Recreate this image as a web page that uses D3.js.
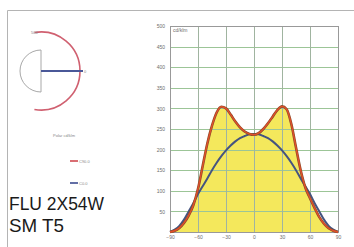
<!DOCTYPE html>
<html>
<head>
<meta charset="utf-8">
<script src="https://cdn.jsdelivr.net/npm/d3@7"></script>
<style>
  body { margin: 0; background: #fff; }
  svg { display: block; }
</style>
</head>
<body>
<script>
// angles in degrees and the two intensity curves (cd/klm)
const angles = [-90, -85, -80, -75, -70, -65, -60, -55, -50, -45, -40, -35, -30, -25, -20, -15, -10, -5,
    0, 5, 10, 15, 20, 25, 30, 35, 40, 45, 50, 55, 60, 65, 70, 75, 80, 85, 90];
const redValues = [0, 3, 10, 22, 40, 65, 105, 160, 215, 258, 290, 304, 300, 285, 268, 254, 244, 238,
    236, 240, 250, 264, 280, 296, 305, 298, 262, 205, 150, 108, 82, 58, 36, 20, 9, 3, 0];
const blueValues = [0, 6, 15, 30, 50, 70, 92, 111, 130, 150, 168, 184, 198, 210, 220, 228, 233, 237,
    238, 237, 233, 228, 220, 210, 198, 184, 168, 150, 130, 111, 92, 70, 50, 30, 15, 6, 0];
const xTicks = [-90, -60, -30, 0, 30, 60, 90];
const yTicks = [50, 100, 150, 200, 250, 300, 350, 400, 450, 500];
const legendLabels = ["C90.0", "C0.0"];

const W = 354, H = 247;
const plot = { left: 170, top: 26, right: 338, bottom: 232 };
const smallFont = "Liberation Sans, Arial, sans-serif";

const svg = d3.select("body").append("svg")
    .attr("width", W)
    .attr("height", H);

// outer frame
svg.append("path")
    .attr("d", "M7.5," + H + "V10.5H" + W)
    .attr("fill", "none")
    .attr("stroke", "#b4b4b4");

const x = d3.scaleLinear().domain([-90, 90]).range([plot.left, plot.right]);
const y = d3.scaleLinear().domain([0, 500]).range([plot.bottom, plot.top]);

const redData = angles.map((a, i) => ({ a: a, v: redValues[i] }));
const blueData = angles.map((a, i) => ({ a: a, v: blueValues[i] }));

// yellow area under the red curve
const area = d3.area()
    .x(d => x(d.a))
    .y0(y(0))
    .y1(d => y(d.v))
    .curve(d3.curveMonotoneX);

svg.append("path")
    .datum(redData)
    .attr("d", area)
    .attr("fill", "#f4e85c");

// grid
svg.append("g")
    .selectAll("line")
    .data(yTicks)
    .enter().append("line")
    .attr("x1", plot.left)
    .attr("x2", plot.right)
    .attr("y1", d => Math.round(y(d)) + 0.5)
    .attr("y2", d => Math.round(y(d)) + 0.5)
    .attr("stroke", "#9cc597")
    .attr("stroke-width", 1);

svg.append("g")
    .selectAll("line")
    .data(xTicks.slice(1, -1))
    .enter().append("line")
    .attr("x1", d => Math.round(x(d)) + 0.5)
    .attr("x2", d => Math.round(x(d)) + 0.5)
    .attr("y1", plot.top)
    .attr("y2", plot.bottom)
    .attr("stroke", "#a0b4a0")
    .attr("stroke-width", 1);

// plot border
svg.append("rect")
    .attr("x", plot.left + 0.5)
    .attr("y", plot.top + 0.5)
    .attr("width", plot.right - plot.left)
    .attr("height", plot.bottom - plot.top)
    .attr("fill", "none")
    .attr("stroke", "#999");

// curves
const line = d3.line()
    .x(d => x(d.a))
    .y(d => y(d.v))
    .curve(d3.curveMonotoneX);

svg.append("path")
    .datum(blueData)
    .attr("d", line)
    .attr("fill", "none")
    .attr("stroke", "#455480")
    .attr("stroke-width", 2);

svg.append("path")
    .datum(redData)
    .attr("d", line)
    .attr("fill", "none")
    .attr("stroke", "#8a4a2a")
    .attr("stroke-width", 2.6);

svg.append("path")
    .datum(redData)
    .attr("d", line)
    .attr("fill", "none")
    .attr("stroke", "#e0502a")
    .attr("stroke-width", 1.4);

// axis labels
svg.append("g")
    .attr("transform", "translate(" + plot.left + ",0)")
    .call(d3.axisLeft(y).tickValues(yTicks).tickSize(0).tickPadding(5))
    .call(g => g.select(".domain").remove())
    .selectAll("text")
    .attr("font-family", smallFont)
    .attr("font-size", 5)
    .attr("fill", "#6e6e6e");

svg.append("g")
    .attr("transform", "translate(0," + plot.bottom + ")")
    .call(d3.axisBottom(x).tickValues(xTicks).tickSize(0).tickPadding(3))
    .call(g => g.select(".domain").remove())
    .selectAll("text")
    .attr("font-family", smallFont)
    .attr("font-size", 5)
    .attr("fill", "#6e6e6e");

// unit tag inside plot
svg.append("rect")
    .attr("x", plot.left + 2)
    .attr("y", plot.top + 1)
    .attr("width", 20)
    .attr("height", 6)
    .attr("fill", "#fff");
svg.append("text")
    .attr("x", plot.left + 3)
    .attr("y", plot.top + 6)
    .attr("font-family", smallFont)
    .attr("font-size", 5)
    .attr("fill", "#6e6e6e")
    .text("cd/klm");

// small polar diagram
const cx = 41, cy = 71;
const polar = svg.append("g");

polar.append("path")
    .attr("d", d3.arc()({ innerRadius: 39, outerRadius: 39, startAngle: -0.17, endAngle: Math.PI + 0.17 }))
    .attr("transform", "translate(" + cx + "," + cy + ")")
    .attr("fill", "none")
    .attr("stroke", "#d06070")
    .attr("stroke-width", 1.6);

polar.append("path")
    .attr("d", "M" + cx + "," + (cy - 21) + "V" + (cy + 21) +
        "A21,21 0 0 1 " + cx + "," + (cy - 21))
    .attr("fill", "none")
    .attr("stroke", "#a8a8a8")
    .attr("stroke-width", 1);

polar.append("line")
    .attr("x1", cx)
    .attr("x2", cx + 42)
    .attr("y1", cy)
    .attr("y2", cy)
    .attr("stroke", "#4a5898")
    .attr("stroke-width", 2.2);

polar.append("text")
    .attr("x", 31)
    .attr("y", 34)
    .attr("font-family", smallFont)
    .attr("font-size", 4)
    .attr("fill", "#888")
    .text("500");
polar.append("text")
    .attr("x", 84)
    .attr("y", 73)
    .attr("font-family", smallFont)
    .attr("font-size", 4)
    .attr("fill", "#888")
    .text("0");

svg.append("text")
    .attr("x", 53)
    .attr("y", 137)
    .attr("font-family", smallFont)
    .attr("font-size", 4)
    .attr("fill", "#888")
    .text("Polar cd/klm");

const legendColors = ["#d04a50", "#3c4c90"];
const legend = svg.append("g")
    .selectAll("g")
    .data(legendLabels)
    .enter().append("g")
    .attr("transform", (d, i) => "translate(70," + (161 + i * 22) + ")");
legend.append("line")
    .attr("x1", 0).attr("x2", 8)
    .attr("stroke", (d, i) => legendColors[i])
    .attr("stroke-width", 1.6);
legend.append("text")
    .attr("x", 9)
    .attr("y", 1.5)
    .attr("font-family", smallFont)
    .attr("font-size", 4)
    .attr("fill", "#888")
    .text(d => d);

// product name
const nameFont = "Liberation Sans Narrow, Arial Narrow, Liberation Sans, Arial, sans-serif";
svg.append("text")
    .attr("x", 9)
    .attr("y", 210)
    .attr("font-family", nameFont)
    .attr("font-size", 18.5)
    .attr("textLength", 95)
    .attr("lengthAdjust", "spacingAndGlyphs")
    .attr("fill", "#1a1a1a")
    .text("FLU 2X54W");
svg.append("text")
    .attr("x", 9)
    .attr("y", 232)
    .attr("font-family", nameFont)
    .attr("font-size", 18.5)
    .attr("textLength", 55)
    .attr("lengthAdjust", "spacingAndGlyphs")
    .attr("fill", "#1a1a1a")
    .text("SM T5");
</script>
</body>
</html>
